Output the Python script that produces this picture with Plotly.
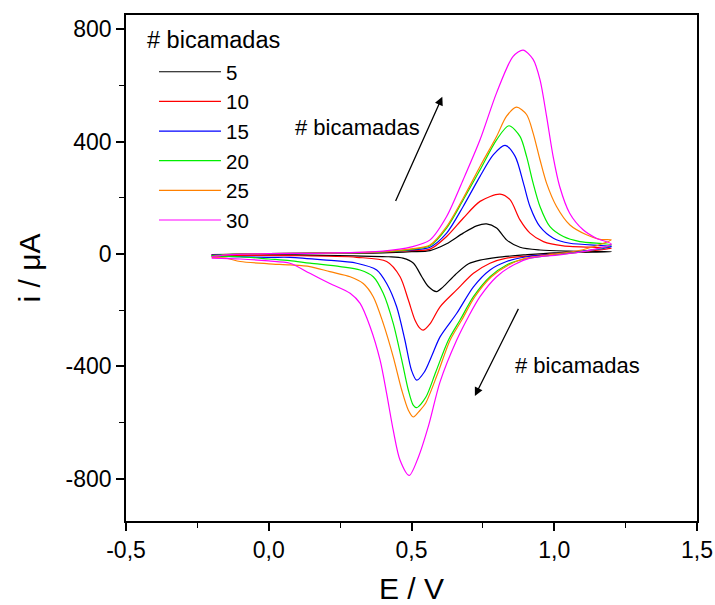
import plotly.graph_objects as go

# ---- data (E in V, i in µA), loop: forward then reverse ----
labels = ["5", "10", "15", "20", "25", "30"]
colors = ["#000000", "#ff0000", "#0000ff", "#00ee00", "#ff8000", "#ff00ff"]

e5 = [-0.2, 0.0, 0.2, 0.4, 0.5, 0.565, 0.623, 0.681, 0.728, 0.763, 0.798, 0.833, 0.88, 0.95, 1.05, 1.2,
      1.0, 0.9, 0.8, 0.74, 0.7, 0.655, 0.61, 0.588, 0.559, 0.536, 0.507, 0.47, 0.42, 0.3, 0.1, -0.2]
i5 = [-2, 0, 2, 4, 8, 12, 36, 74, 100, 107, 92, 50, 24, 14, 10, 8,
      4, -3, -12, -22, -35, -72, -118, -134, -116, -81, -33, -15, -10, -7, -4, -3]

e10 = [-0.2, 0.0, 0.2, 0.4, 0.5, 0.565, 0.623, 0.681, 0.74, 0.81, 0.845, 0.88, 0.915, 0.962, 1.032, 1.2,
       1.1, 1.0, 0.95, 0.833, 0.775, 0.717, 0.658, 0.6, 0.564, 0.541, 0.53, 0.512, 0.489, 0.46, 0.413, 0.308, 0.074, -0.2]
i10 = [-3, 1, 3, 6, 12, 17, 62, 127, 187, 213, 193, 121, 74, 44, 29, 20,
       8, 0, -4, -15, -33, -69, -128, -188, -250, -271, -265, -235, -164, -81, -27, -12, -6, -5]

e15 = [-0.2, 0.0, 0.2, 0.4, 0.5, 0.565, 0.623, 0.681, 0.74, 0.787, 0.828, 0.863, 0.892, 0.915, 0.95, 0.997, 1.055, 1.2,
       1.1, 0.985, 0.903, 0.833, 0.775, 0.717, 0.658, 0.6, 0.57, 0.545, 0.518, 0.5, 0.477, 0.448, 0.413, 0.378, 0.308, 0.191, 0.074, 0.0, -0.2]
i15 = [-4, 1, 3, 7, 14, 24, 74, 169, 276, 353, 386, 347, 252, 169, 97, 56, 38, 26,
       10, -2, -10, -27, -57, -117, -212, -295, -365, -420, -449, -414, -307, -188, -105, -57, -33, -21, -12, -12, -8]

e20 = [-0.2, -0.15, 0.0, 0.2, 0.4, 0.5, 0.565, 0.623, 0.681, 0.74, 0.798, 0.841, 0.88, 0.903, 0.926, 0.95, 0.985, 1.032, 1.09, 1.2,
       1.1, 0.98, 0.892, 0.833, 0.775, 0.717, 0.67, 0.629, 0.585, 0.55, 0.518, 0.506, 0.489, 0.466, 0.436, 0.401, 0.366, 0.32, 0.25, 0.144, 0.074, 0.0, -0.1, -0.2]
i20 = [-6, -2, 1, 3, 7, 16, 29, 92, 192, 299, 406, 456, 418, 347, 252, 169, 97, 62, 44, 32,
       8, -6, -19, -39, -81, -152, -235, -307, -420, -510, -547, -538, -485, -378, -247, -140, -81, -57, -45, -33, -24, -18, -10, -8]

e25 = [-0.2, -0.15, 0.0, 0.2, 0.4, 0.5, 0.565, 0.623, 0.681, 0.74, 0.798, 0.833, 0.868, 0.903, 0.926, 0.95, 0.973, 1.008, 1.055, 1.113, 1.159, 1.2,
       1.1, 0.98, 0.9, 0.84, 0.78, 0.722, 0.676, 0.635, 0.59, 0.55, 0.53, 0.506, 0.489, 0.466, 0.436, 0.401, 0.366, 0.331, 0.285, 0.214, 0.144, 0.074, 0.0, -0.1, -0.15, -0.2]
i25 = [-10, -3, 1, 3, 8, 18, 32, 97, 198, 311, 418, 490, 522, 496, 430, 335, 252, 169, 103, 68, 52, 50,
       15, -3, -15, -39, -81, -152, -235, -307, -430, -530, -556, -580, -556, -485, -366, -247, -152, -105, -81, -63, -45, -39, -35, -27, -15, -12]

e30 = [-0.2, -0.15, 0.0, 0.2, 0.4, 0.5, 0.565, 0.623, 0.681, 0.74, 0.798, 0.856, 0.891, 0.926, 0.95, 0.973, 0.996, 1.019, 1.054, 1.101, 1.147, 1.2,
       1.1, 1.009, 0.915, 0.857, 0.798, 0.74, 0.699, 0.658, 0.6, 0.56, 0.524, 0.492, 0.46, 0.436, 0.413, 0.39, 0.355, 0.32, 0.285, 0.214, 0.144, 0.074, 0.0, -0.1, -0.2]
i30 = [-10, -3, 1, 3, 10, 25, 50, 133, 264, 406, 573, 703, 725, 692, 620, 490, 347, 240, 145, 86, 56, 35,
       8, -4, -15, -39, -81, -152, -224, -307, -455, -610, -723, -788, -734, -627, -497, -378, -259, -176, -140, -105, -69, -33, -25, -18, -15]

xs = [e5, e10, e15, e20, e25, e30]
ys = [i5, i10, i15, i20, i25, i30]

x_ticks = [-0.5, 0.0, 0.5, 1.0, 1.5]
x_ticktext = ["-0,5", "0,0", "0,5", "1,0", "1,5"]
y_ticks = [-800, -400, 0, 400, 800]
y_ticktext = ["-800", "-400", "0", "400", "800"]

FONT = "Liberation Sans, Arial, sans-serif"

fig = go.Figure()
for k in range(len(labels)):
    fig.add_trace(go.Scatter(
        x=xs[k], y=ys[k], mode="lines", name=labels[k],
        line=dict(color=colors[k], width=1.2, shape="spline", smoothing=0.8),
    ))

# arrows and labels
fig.add_annotation(x=0.608, y=559, ax=0.442, ay=183, xref="x", yref="y", axref="x", ayref="y",
                   showarrow=True, arrowhead=2, arrowsize=1.3, arrowwidth=1.3, arrowcolor="black", text="")
fig.add_annotation(x=0.722, y=-505, ax=0.877, ay=-190, xref="x", yref="y", axref="x", ayref="y",
                   showarrow=True, arrowhead=2, arrowsize=1.3, arrowwidth=1.3, arrowcolor="black", text="")
fig.add_annotation(x=0.085, y=449, xref="x", yref="y", text="# bicamadas", showarrow=False,
                   xanchor="left", font=dict(size=22, color="black", family=FONT))
fig.add_annotation(x=0.855, y=-396, xref="x", yref="y", text="# bicamadas", showarrow=False,
                   xanchor="left", font=dict(size=22, color="black", family=FONT))
# legend heading
fig.add_annotation(x=0.033, y=0.951, xref="paper", yref="paper", text="# bicamadas", showarrow=False,
                   xanchor="left", yanchor="middle", font=dict(size=23.5, color="black", family=FONT))

fig.update_layout(
    width=715, height=605,
    margin=dict(l=126, r=18, t=15, b=84, autoexpand=False),
    paper_bgcolor="white", plot_bgcolor="white",
    font=dict(family=FONT, size=23, color="black"),
    showlegend=True,
    legend=dict(
        x=0.049, y=0.927, xanchor="left", yanchor="top",
        bgcolor="rgba(0,0,0,0)", itemwidth=62, tracegroupgap=0,
        font=dict(size=20.5), traceorder="normal",
    ),
    xaxis=dict(
        range=[-0.5, 1.5], showgrid=False, zeroline=False, automargin=False,
        showline=True, linecolor="black", linewidth=1.6, mirror=True,
        ticks="outside", ticklen=8, tickwidth=1.5, tickcolor="black",
        tickmode="array", tickvals=x_ticks, ticktext=x_ticktext,
        minor=dict(dtick=0.25, tick0=-0.5, ticks="outside", ticklen=5, tickwidth=1.2, tickcolor="black", showgrid=False),
        tickfont=dict(size=23),
        title=dict(text="E / V", font=dict(size=30), standoff=18),
    ),
    yaxis=dict(
        range=[-950, 850], showgrid=False, zeroline=False, automargin=False,
        showline=True, linecolor="black", linewidth=1.6, mirror=True,
        ticks="outside", ticklen=8, tickwidth=1.5, tickcolor="black",
        tickmode="array", tickvals=y_ticks, ticktext=y_ticktext,
        minor=dict(dtick=200, tick0=0, ticks="outside", ticklen=5, tickwidth=1.2, tickcolor="black", showgrid=False),
        tickfont=dict(size=23),
        title=dict(text="i / μA", font=dict(size=30), standoff=16),
    ),
)

fig.write_html("out.html")
